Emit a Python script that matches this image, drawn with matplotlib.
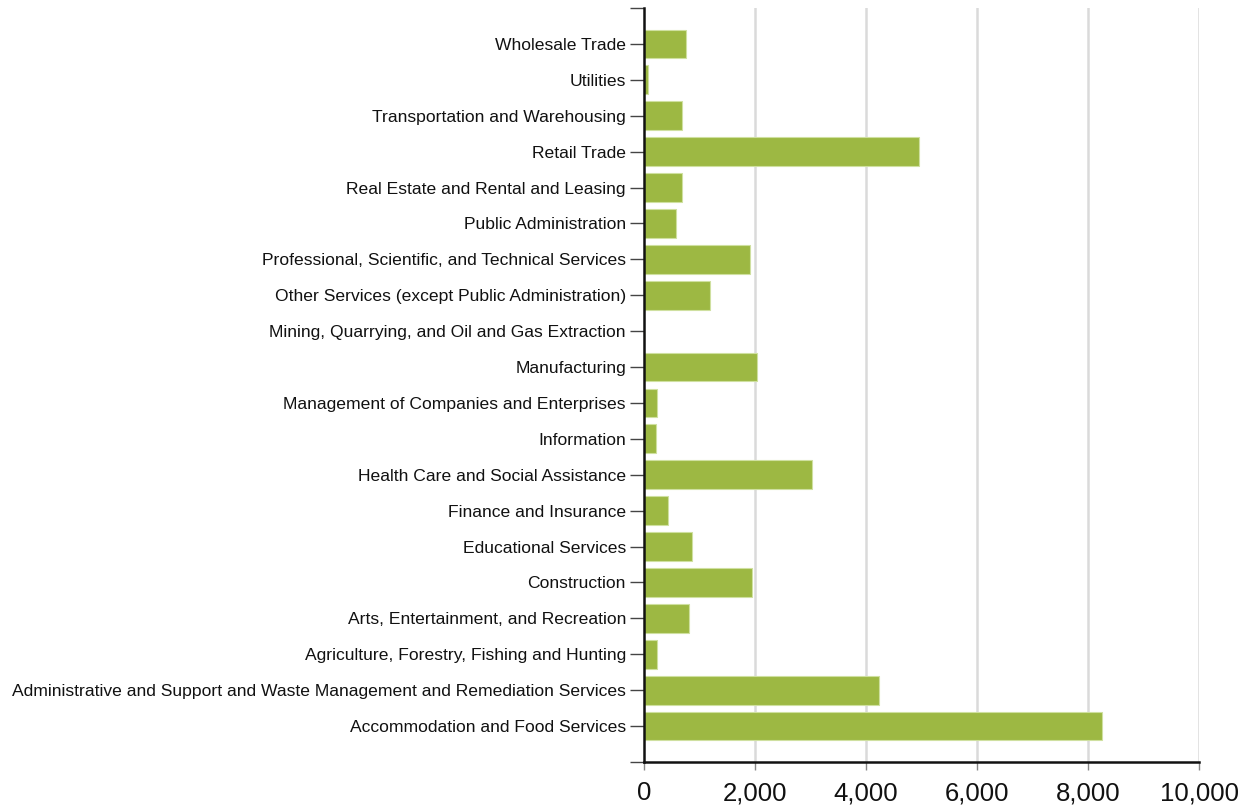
import matplotlib
matplotlib.use("Agg")
import matplotlib.pyplot as plt
from matplotlib.ticker import FuncFormatter

# Отрасли сверху вниз, как на исходной картинке
industries = [
    "Wholesale Trade",
    "Utilities",
    "Transportation and Warehousing",
    "Retail Trade",
    "Real Estate and Rental and Leasing",
    "Public Administration",
    "Professional, Scientific, and Technical Services",
    "Other Services (except Public Administration)",
    "Mining, Quarrying, and Oil and Gas Extraction",
    "Manufacturing",
    "Management of Companies and Enterprises",
    "Information",
    "Health Care and Social Assistance",
    "Finance and Insurance",
    "Educational Services",
    "Construction",
    "Arts, Entertainment, and Recreation",
    "Agriculture, Forestry, Fishing and Hunting",
    "Administrative and Support and Waste Management and Remediation Services",
    "Accommodation and Food Services",
]
values = [
    762, 79, 689, 4950, 689, 580, 1903, 1184, 0, 2030,
    230, 216, 3036, 439, 856, 1950, 813, 230, 4230, 8252,
]
x_ticks = [0, 2000, 4000, 6000, 8000, 10000]

plt.rcParams["font.family"] = ["Liberation Sans", "DejaVu Sans"]

fig = plt.figure(figsize=(12.56, 8.05), dpi=100, facecolor="white")
ax = fig.add_axes([644 / 1256, 1 - 762 / 805, (1199 - 644) / 1256, (762 - 8) / 805])

pos = list(range(len(industries)))
ax.barh(pos, values, height=0.8, color="#9db843", edgecolor="#cfe0a0",
        linewidth=0.8, zorder=3)

ax.set_xlim(0, 10000)
ax.set_ylim(len(industries), -1)

# сетка
for t in x_ticks[1:]:
    ax.axvline(t, color="#dadada", lw=1.8, zorder=1)

ax.set_yticks(pos)
ax.set_yticklabels(industries, fontsize=12.6, color="#111111")
ax.set_yticks([-1, len(industries)], minor=True)
ax.tick_params(axis="y", which="both", length=10, width=1, color="#444444", pad=3)

ax.set_xticks(x_ticks)
ax.xaxis.set_major_formatter(FuncFormatter(lambda v, p: f"{int(v):,}"))
ax.tick_params(axis="x", length=6, width=1, color="#888888", labelsize=18.5,
               pad=8, labelcolor="#111111")

for side in ("top", "right"):
    ax.spines[side].set_visible(False)
for side in ("left", "bottom"):
    ax.spines[side].set_linewidth(1.8)
    ax.spines[side].set_color("#111111")
    ax.spines[side].set_zorder(4)

fig.savefig("out.png", dpi=100, facecolor="white")
